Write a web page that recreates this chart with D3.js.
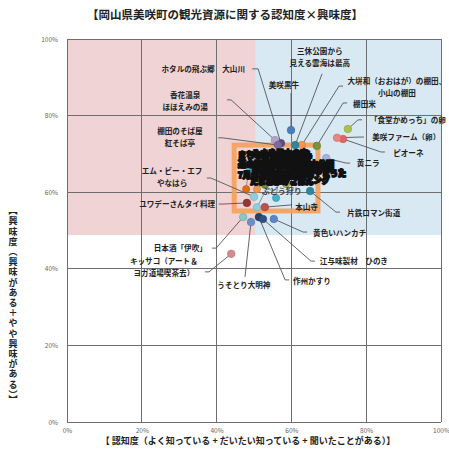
<!DOCTYPE html>
<html><head><meta charset="utf-8">
<script src="https://cdn.jsdelivr.net/npm/d3@7"></script>
<style>
body{margin:0;background:#fff}
svg{display:block}
text{font-family:"Noto Sans CJK JP","Noto Sans",sans-serif}
</style>
</head><body>
<svg id="c" width="449" height="459"></svg>
<script>
// ---------------- DATA ----------------
const title = "【岡山県美咲町の観光資源に関する認知度×興味度】";
const xTitle = "【 認知度（よく知っている + だいたい知っている + 聞いたことがある）】";
const yTitle = "【興味度（興味がある＋やや興味がある）】";
const xTicks = [0, 20, 40, 60, 80, 100];
const yTicks = [0, 20, 40, 60, 80, 100];
const avgRecognition = 50.5;
const avgInterest = 48.8;
const focusBox = [44.7, 67.1, 55.1, 72.3]; // x0, x1, y0, y1 (%)

const names = [
  "ホタルの飛ぶ郷　大山川", "香花温泉\nほほえみの湯", "棚田のそば屋\n紅そば亭",
  "エム・ビー・エフ\nやなはら", "ユワデーさんタイ料理", "日本酒「伊吹」",
  "キッサコ（アート＆\nヨガ道場喫茶去）", "うそとり大明神", "作州かすり",
  "江与味製材　ひのき", "黄色いハンカチ", "本山寺", "片鉄ロマン街道", "黄ニラ",
  "ピオーネ", "美咲ファーム（卵）", "「食堂かめっち」の卵", "棚田米",
  "大垪和（おおはが）の棚田、\n小山の棚田", "美咲黒牛", "三休公園から\n見える雲海は最高"
];
const recognition = [57.2, 55.6, 56.4, 50.0, 48.1, 47.1, 43.9, 49.2, 51.3, 52.4, 55.3,
  52.9, 65.0, 69.3, 73.8, 72.2, 75.1, 66.8, 62.8, 59.9, 61.0];
const interest = [72.8, 73.6, 72.3, 58.8, 57.2, 53.5, 43.9, 52.2, 53.5, 53.0, 53.0,
  56.1, 60.3, 68.9, 73.9, 74.2, 76.5, 72.1, 72.3, 76.2, 72.3];

const clusterNames = ["みさき里山の森", "まちなかの松ループ", "道の駅周辺の散策", "7月の夏まつり",
  "月の輪古墳", "柵原鉱山資料館", "ふれあい鉱山公園", "黄福柵原駅", "たまごかけごはん",
  "里山やまうた", "両山寺", "旭川ラフティング", "中央運動公園", "ぶどう狩り"];
const clusterRecognition = [54.3, 52.4, 48.9, 47.9, 50.8, 51.6, 55.9, 50.8, 57.0, 60.2, 62.3, 63.9, 58.6, 52.9];
const clusterInterest = [64.5, 67.6, 65.8, 60.8, 60.8, 62.4, 58.5, 56.1, 67.1, 65.3, 68.4, 63.7, 62.1, 61.9];

// ---------------- STYLE / LAYOUT ----------------
const colors = ["#604a7b", "#b3a2c7", "#7f6a9f", "#93cddd", "#953735", "#8cc6c0",
  "#d88a8a", "#6d8fc9", "#2c3e63", "#2f4f84", "#5f83c9", "#c0504d", "#31859c", "#a5b1de",
  "#e06666", "#e8867f", "#a8c24a", "#77933c", "#f79646", "#4a7ebb", "#31859c"];
const clusterColors = ["#c4bd97", "#f79646", "#4bacc6", "#e46c0a", "#f79646", "#9bbb59",
  "#4bacc6", "#93cddd", "#8064a2", "#4f81bd", "#c0504d", "#1f497d", "#9bbb59", "#77933c"];
// label anchor (%), text-anchor, line start (%), hook length (px)
const labelPos = [
  [47.6, 91.4, "end"], [31.6, 84.6, "middle"], [30.2, 75.2, "middle"], [28.1, 64.8, "middle"],
  [39.6, 56.1, "end"], [37.4, 44.7, "end"], [25.9, 41.3, "middle"], [47.3, 35.0, "middle"],
  [60.4, 36.1, "start"], [67.6, 41.3, "start"], [65.8, 48.6, "start"], [61.0, 55.4, "start"],
  [74.9, 53.8, "start"], [77.5, 66.8, "start"], [87.2, 69.5, "start"], [81.6, 73.6, "start"],
  [81.0, 78.1, "start"], [76.5, 82.2, "start"], [88.2, 88.3, "middle"], [58.0, 87.2, "middle"],
  [67.6, 96.1, "middle"]
];
const lineStart = [
  [49.5, 92.2, 6], [42.8, 84.1, 4], [40.4, 74.2, 4], [37.4, 63.7, 4], [40.6, 56.9, 4],
  [38.8, 45.4, 4], [36.9, 39.2, 4], [47.6, 37.9, 0], [59.4, 37.1, 4], [66.3, 42.0, 4],
  [64.2, 49.6, 4], [60.2, 56.7, 0], [73.0, 54.8, 4], [75.7, 67.6, 4], [85.0, 70.5, 4],
  [79.4, 74.4, 4], [78.9, 78.9, 4], [74.9, 83.3, 4], [73.8, 87.7, 4], [59.9, 85.9, 0],
  [68.2, 90.9, 0]
];
const clusterLabelPos = [
  [49.5, 69.5], [45.7, 68.9], [45.7, 66.6], [45.7, 63.7], [52.1, 67.9], [49.5, 65.3],
  [54.3, 66.6], [52.7, 63.7], [48.9, 62.1], [61.8, 64.2], [59.1, 68.4], [53.2, 62.4],
  [58.0, 65.8], [52.1, 59.6]
];

// ---------------- DRAW ----------------
const svg = d3.select("#c");
const x = d3.scaleLinear().domain([0, 100]).range([67, 441]);
const y = d3.scaleLinear().domain([0, 100]).range([422, 39]);

// background quadrants
svg.append("rect").attr("x", x(0)).attr("y", y(100))
  .attr("width", x(avgRecognition) - x(0)).attr("height", y(avgInterest) - y(100))
  .attr("fill", "#f0d4d5");
svg.append("rect").attr("x", x(avgRecognition)).attr("y", y(100))
  .attr("width", x(100) - x(avgRecognition)).attr("height", y(avgInterest) - y(100))
  .attr("fill", "#d9e9f4");

// grid
const grid = svg.append("g").attr("stroke", "#6e6e6e").attr("stroke-width", 1).attr("shape-rendering", "crispEdges");
grid.selectAll(".vx").data(xTicks).join("line")
  .attr("x1", d => x(d)).attr("x2", d => x(d)).attr("y1", y(0)).attr("y2", y(100));
grid.selectAll(".hy").data(yTicks).join("line")
  .attr("x1", x(0)).attr("x2", x(100)).attr("y1", d => y(d)).attr("y2", d => y(d));

// axes labels
const yAxis = svg.append("g").attr("transform", `translate(${x(0)},0)`)
  .call(d3.axisLeft(y).tickValues(yTicks).tickFormat(d => d + "%").tickSize(0).tickPadding(9));
const xAxis = svg.append("g").attr("transform", `translate(0,${y(0)})`)
  .call(d3.axisBottom(x).tickValues(xTicks).tickFormat(d => d + "%").tickSize(0).tickPadding(6));
[yAxis, xAxis].forEach(a => {
  a.select(".domain").remove();
  a.selectAll("text").attr("font-size", 6.5).attr("fill", "#666")
    .attr("font-family", '"Liberation Sans",Arial,sans-serif');
});

// focus box
svg.append("rect")
  .attr("x", x(focusBox[0])).attr("y", y(focusBox[3]))
  .attr("width", x(focusBox[1]) - x(focusBox[0])).attr("height", y(focusBox[2]) - y(focusBox[3]))
  .attr("fill", "none").attr("stroke", "#f5a05a").attr("stroke-width", 5).attr("opacity", 0.9);

// cluster leader lines + points
const cl = svg.append("g");
clusterNames.forEach((n, i) => {
  cl.append("line")
    .attr("x1", x(clusterLabelPos[i][0]) + 10).attr("y1", y(clusterLabelPos[i][1]) - 3)
    .attr("x2", x(clusterRecognition[i])).attr("y2", y(clusterInterest[i]))
    .attr("stroke", "#777").attr("stroke-width", 0.8);
});
cl.selectAll("circle").data(clusterNames).join("circle")
  .attr("cx", (d, i) => x(clusterRecognition[i])).attr("cy", (d, i) => y(clusterInterest[i]))
  .attr("r", 3.6).attr("fill", (d, i) => clusterColors[i])
  .attr("stroke", (d, i) => d3.color(clusterColors[i]).darker(0.5)).attr("stroke-width", 0.6);

// leader lines for labelled points
const lines = svg.append("g").attr("fill", "none").attr("stroke", "#555").attr("stroke-width", 0.9);
names.forEach((n, i) => {
  const sx = x(lineStart[i][0]), sy = y(lineStart[i][1]);
  const px = x(recognition[i]), py = y(interest[i]);
  const hook = lineStart[i][2] * (px > sx ? 1 : -1);
  const pts = hook ? [[sx, sy], [sx + hook, sy], [px, py]] : [[sx, sy], [px, py]];
  lines.append("path").attr("d", d3.line()(pts));
});

// points
svg.append("g").selectAll("circle").data(names).join("circle")
  .attr("cx", (d, i) => x(recognition[i])).attr("cy", (d, i) => y(interest[i]))
  .attr("r", 3.8).attr("fill", (d, i) => colors[i])
  .attr("stroke", (d, i) => d3.color(colors[i]).darker(0.5)).attr("stroke-width", 0.6);

// labels
const lab = svg.append("g").attr("font-size", 7.6).attr("font-weight", "bold").attr("fill", "#222");
names.forEach((n, i) => {
  const t = lab.append("text")
    .attr("x", x(labelPos[i][0])).attr("y", y(labelPos[i][1]))
    .attr("text-anchor", labelPos[i][2]);
  n.split("\n").forEach((line, j) => {
    t.append("tspan").attr("x", x(labelPos[i][0])).attr("dy", j ? 12 : 0).text(line);
  });
});

// cluster labels (overlapping mass)
const cLab = svg.append("g").attr("font-size", 8).attr("font-weight", "bold");
clusterNames.forEach((n, i) => {
  const last = i === clusterNames.length - 1;
  cLab.append("text")
    .attr("x", x(clusterLabelPos[i][0])).attr("y", y(clusterLabelPos[i][1]))
    .attr("fill", last ? "#444" : "#111")
    .attr("stroke", last ? "none" : "#111").attr("stroke-width", 2)
    .attr("stroke-linejoin", "round")
    .text(n);
});

// titles
svg.append("text").attr("x", 225).attr("y", 19).attr("text-anchor", "middle")
  .attr("font-size", 11.5).attr("font-weight", "bold").attr("fill", "#222").text(title);
svg.append("text").attr("x", 248).attr("y", 444).attr("text-anchor", "middle")
  .attr("font-size", 9).attr("font-weight", "bold").attr("fill", "#222").text(xTitle);
svg.append("text").attr("x", 13).attr("y", 306).attr("text-anchor", "middle")
  .style("writing-mode", "vertical-rl").attr("letter-spacing", 1.2)
  .attr("font-size", 9).attr("font-weight", "bold").attr("fill", "#222").text(yTitle);
</script>
</body></html>
